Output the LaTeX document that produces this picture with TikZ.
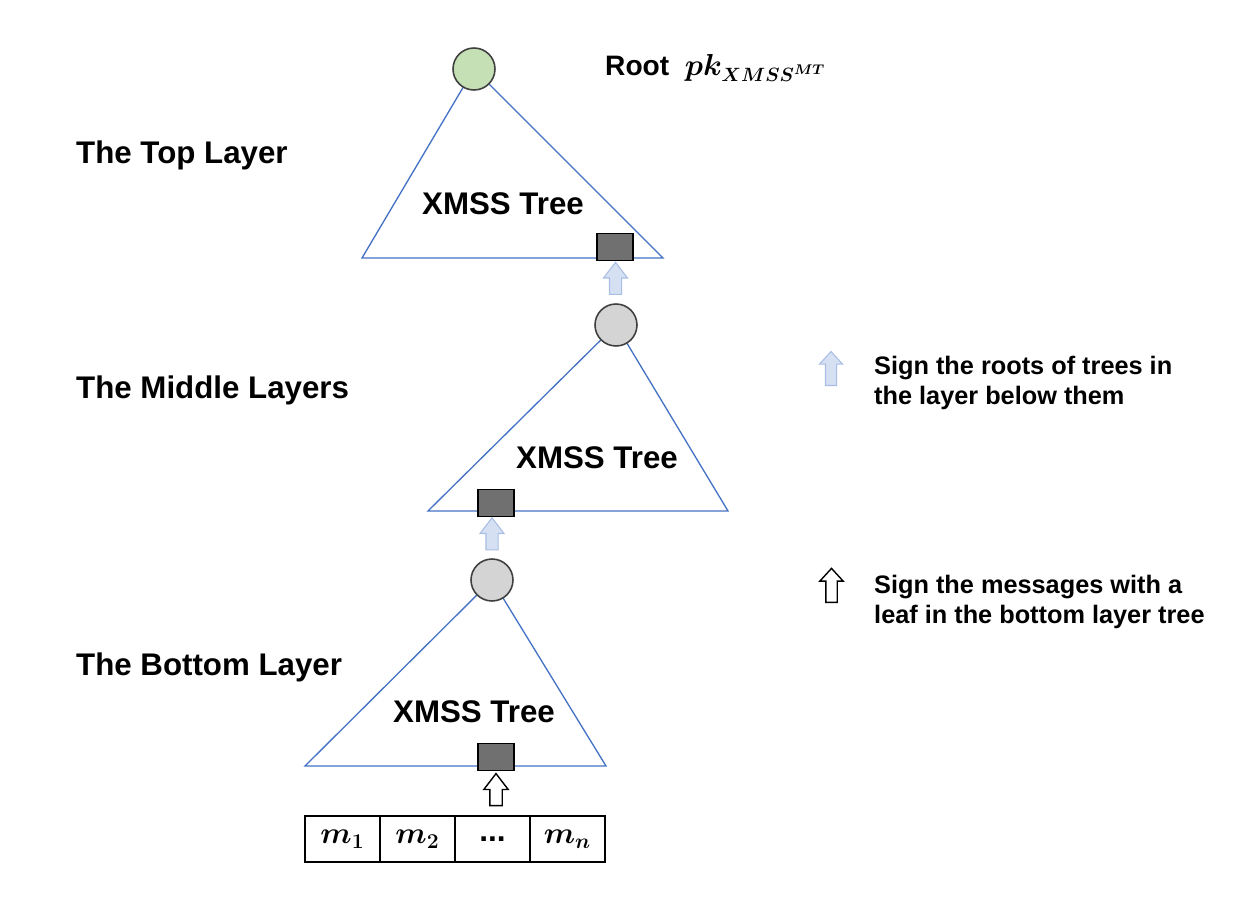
\documentclass[tikz,border=0pt]{standalone}
\usepackage{amsmath, amssymb, bm}
\usepackage{fontspec}
\setmainfont{Liberation Sans}
\usetikzlibrary{shapes.arrows, positioning, calc}

\definecolor{treeblue}{HTML}{4472C4}
\definecolor{rootgreen}{HTML}{C5E0B4}
\definecolor{rootgray}{HTML}{D4D4D4}
\definecolor{edgegray}{HTML}{404040}
\definecolor{leafgray}{HTML}{707070}
\definecolor{signfill}{HTML}{D5E0F2}
\definecolor{signdraw}{HTML}{A9BEE4}

\begin{document}
\begin{tikzpicture}[x=0.02cm, y=-0.02cm,
		layerlabel/.style={anchor=west, font=\fontsize{17.8}{21}\selectfont\bfseries},
		treelabel/.style={font=\fontsize{17.8}{21}\selectfont\bfseries},
		notelabel/.style={anchor=west, align=left, font=\fontsize{14.4}{17}\selectfont\bfseries},
		treeline/.style={draw=treeblue, line width=0.75pt},
		rootnode/.style={draw=edgegray, circle, line width=0.9pt, minimum size=0.84cm, inner sep=0pt},
		leafnode/.style={draw=black, fill=leafgray, rectangle, line width=0.9pt, minimum width=0.72cm, minimum height=0.54cm, inner sep=0pt},
		msgcell/.style={draw, rectangle, line width=0.8pt, outer sep=0pt, minimum width=1.5cm, minimum height=0.92cm, font=\fontsize{18}{21}\selectfont\boldmath},
		blockarrow/.style={single arrow, rotate=90, inner xsep=0pt, inner ysep=0.11cm, minimum height=0.64cm, single arrow head extend=0.12cm, single arrow tip angle=75},
		signarrow/.style={blockarrow, draw=signdraw, fill=signfill, line width=0.6pt},
		msgarrow/.style={blockarrow, draw=black, fill=white, line width=0.8pt},
		keyarrow/.style={minimum height=0.68cm, inner ysep=0.1cm, single arrow head extend=0.12cm, single arrow tip angle=85}
		]
		\useasboundingbox (0,0) rectangle (1260,918);
		
		% ----- Top Layer -----
		\node[layerlabel] (l1) at (70,155) {The Top Layer};
		\coordinate (a1) at (474,69);
		\draw[treeline] (362,258) -- (a1) -- (663,258) -- cycle;
		\node[rootnode, fill=rootgreen] (rt1) at (a1) {};
		\node[treelabel] (x1) at (503,204) {XMSS Tree};
		\node[leafnode] (lf1) at (615,247) {};
		\node[anchor=west, font=\fontsize{16}{19}\selectfont\bfseries] (pk) at (599,68) {Root\ \ $\bm{pk_{XMSS^{MT}}}$};
		
		% ----- Middle Layers -----
		\node[layerlabel] (l2) at (70,390) {The Middle Layers};
		\coordinate (a2) at (616,325);
		\draw[treeline] (428,511) -- (a2) -- (728,511) -- cycle;
		\node[rootnode, fill=rootgray] (rt2) at (a2) {};
		\node[treelabel] (x2) at (597,458) {XMSS Tree};
		\node[leafnode] (lf2) at (496,503) {};
		\node[signarrow] (s1) at ($(lf1.south)!0.5!(rt2.north)$) {};
		
		% ----- Bottom Layer -----
		\node[layerlabel] (l3) at (70,667) {The Bottom Layer};
		\coordinate (a3) at (492,580);
		\draw[treeline] (305,766) -- (a3) -- (606,766) -- cycle;
		\node[rootnode, fill=rootgray] (rt3) at (a3) {};
		\node[treelabel] (x3) at (474,712) {XMSS Tree};
		\node[leafnode] (lf3) at (496,757) {};
		\node[signarrow] (s2) at ($(lf2.south -| rt3.north)!0.5!(rt3.north)$) {};
		
		% Messages
		\node[msgcell] (m1) at (342.5,839) {$m_1$};
		\node[msgcell, right=0pt of m1] (m2) {$m_2$};
		\node[msgcell, right=0pt of m2] (m3) {\textbf{...}};
		\node[msgcell, right=0pt of m3] (m4) {$m_n$};
		\node[msgarrow] (s3) at ($(lf3.south)!0.5!(lf3.south |- m3.north)$) {};
		
		% ----- Legend -----
		\node[signarrow, keyarrow] (k1) at (831,371.5) {};
		\node[notelabel] (n1) at (868,383) {Sign the roots of trees in\\the layer below them};
		\node[msgarrow, keyarrow] (k2) at (831.5,588.5) {};
		\node[notelabel] (n2) at (868,602) {Sign the messages with a\\leaf in the bottom layer tree};
		
	\end{tikzpicture}
\end{document}
